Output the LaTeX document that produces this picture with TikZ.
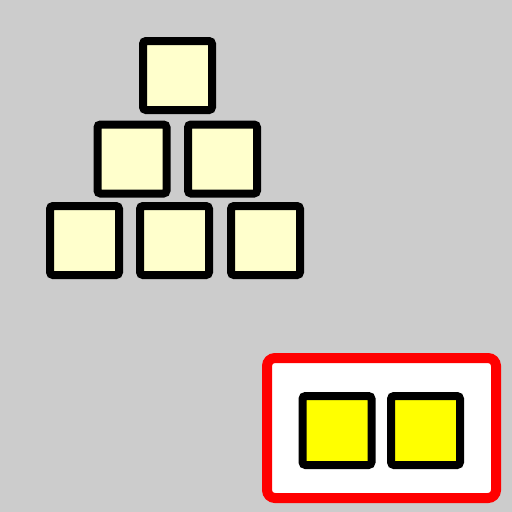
\documentclass[tikz,border=0pt]{standalone}
\usepackage{xcolor}
\definecolor{bgGray}{HTML}{CCCCCC}
\definecolor{paleYellow}{HTML}{FFFFCC}
\definecolor{brightYellow}{HTML}{FFFF00}
\begin{document}
\begin{tikzpicture}[x=1pt,y=-1pt,
  block/.style={draw=black,line width=8pt,rounded corners=3pt,minimum size=69pt,inner sep=0pt,fill=paleYellow},
  keyblock/.style={block,fill=brightYellow},
  tray/.style={draw=red,line width=10pt,rounded corners=8pt,fill=white,minimum width=229pt,minimum height=140pt,inner sep=0pt}]
  \fill[bgGray] (0,0) rectangle (512,512);
  \useasboundingbox (0,0) rectangle (512,512);
  \node[block] (top) at (177.5,75.5) {};
  \node[block] (midL) at (132,159) {};
  \node[block] (midR) at (222.5,159) {};
  \node[block] (botL) at (84.5,240.5) {};
  \node[block] (botM) at (174.5,240.5) {};
  \node[block] (botR) at (265.5,240.5) {};
  \node[tray] (tray) at (381.5,428) {};
  \node[keyblock] (keyL) at (337,430.5) {};
  \node[keyblock] (keyR) at (425.5,430.5) {};
\end{tikzpicture}
\end{document}
